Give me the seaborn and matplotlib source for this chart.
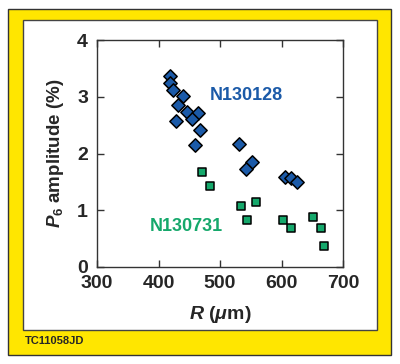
import matplotlib
matplotlib.use("Agg")
import matplotlib.pyplot as plt
from matplotlib.patches import Rectangle
import seaborn as sns

# N130128 (blue diamonds)
r_128 = [419, 419, 423, 440, 432, 447, 464, 454, 428, 467, 459, 531, 552, 542, 606, 615, 625]
p6_128 = [3.37, 3.24, 3.12, 3.02, 2.86, 2.74, 2.72, 2.60, 2.57, 2.42, 2.15, 2.16, 1.85, 1.72, 1.58, 1.56, 1.49]

# N130731 (green squares)
r_731 = [470, 484, 534, 558, 544, 603, 615, 652, 664, 669]
p6_731 = [1.68, 1.43, 1.07, 1.15, 0.83, 0.83, 0.68, 0.88, 0.69, 0.37]

x_ticks = [300, 400, 500, 600, 700]
y_ticks = [0, 1, 2, 3, 4]

blue = "#1b5aa8"
green = "#15a86b"

sns.set_style("ticks")
plt.rcParams['font.family'] = ['Liberation Sans', 'DejaVu Sans']
plt.rcParams['font.weight'] = 'bold'
plt.rcParams['mathtext.fontset'] = 'custom'
plt.rcParams['mathtext.rm'] = 'Liberation Sans:bold'
plt.rcParams['mathtext.it'] = 'Liberation Sans:italic:bold'
plt.rcParams['mathtext.bf'] = 'Liberation Sans:bold'

fig = plt.figure(figsize=(4.0, 3.64), dpi=100)
fig.patch.set_facecolor("white")

# yellow frame + white panel
fig.patches.append(Rectangle((0.021, 0.025), 0.956, 0.95, transform=fig.transFigure,
                             facecolor="#ffe600", edgecolor="#333333", lw=1.0, zorder=0))
fig.patches.append(Rectangle((0.057, 0.093), 0.885, 0.852, transform=fig.transFigure,
                             facecolor="white", edgecolor="#444444", lw=1.0, zorder=1))

ax = fig.add_axes([0.2425, 0.2665, 0.615, 0.6235])
ax.set_facecolor("none")
ax.set_zorder(3)

sns.scatterplot(x=r_128, y=p6_128, marker="D", s=46, color=blue,
                edgecolor="black", linewidth=1.1, ax=ax, zorder=3)
sns.scatterplot(x=r_731, y=p6_731, marker="s", s=38, color=green,
                edgecolor="black", linewidth=1.1, ax=ax, zorder=3)

ax.set_xlim(300, 700)
ax.set_ylim(0, 4)
ax.set_xticks(x_ticks)
ax.set_yticks(y_ticks)
ax.tick_params(direction="in", length=5, width=1, top=True, right=True,
               labelsize=14, color="#333333")
ax.tick_params(axis="x", pad=5.5)
ax.tick_params(axis="y", pad=6.5)
for s in ax.spines.values():
    s.set_linewidth(1.0)
    s.set_color("#333333")

ax.set_xlabel(r"$\mathit{R}$ ($\mathit{\mu}$m)", fontsize=14, fontweight="bold", labelpad=9)
ax.set_ylabel(r"$\mathit{P}_{\mathrm{6}}$ amplitude (%)", fontsize=13.5, fontweight="bold", labelpad=8)

ax.text(542, 3.03, "N130128", color=blue, fontsize=13, fontweight="bold",
        ha="center", va="center")
ax.text(445, 0.71, "N130731", color=green, fontsize=13, fontweight="bold",
        ha="center", va="center")

fig.text(0.063, 0.064, "TC11058JD", fontsize=8, fontweight="bold", ha="left", va="center",
         zorder=4)

fig.savefig("out.png", dpi=100)
